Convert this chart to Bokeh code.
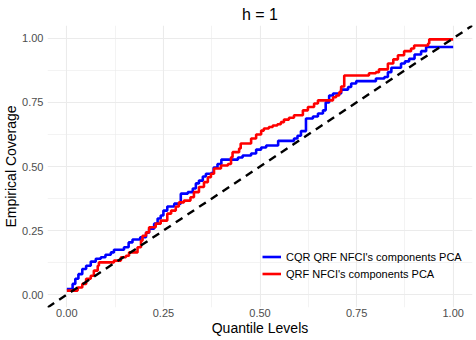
from bokeh.plotting import figure
from bokeh.models import Range1d, FixedTicker, Legend, LegendItem, Slope
from bokeh.embed import file_html
from bokeh.resources import INLINE

# ---- data ----
title_text = "h = 1"
x_label = "Quantile Levels"
y_label = "Empirical Coverage"
tick_values = [0.0, 0.25, 0.5, 0.75, 1.0]
tick_labels = ["0.00", "0.25", "0.50", "0.75", "1.00"]
minor_values = [0.125, 0.375, 0.625, 0.875]

series_cqr = "CQR QRF NFCI's components PCA"
cqr_x = [0.0, 0.015, 0.022, 0.03, 0.04, 0.05, 0.062, 0.075, 0.088, 0.10, 0.114, 0.122,
         0.148, 0.16, 0.17, 0.19, 0.205, 0.213, 0.226, 0.235, 0.243, 0.25, 0.26, 0.278,
         0.295, 0.313, 0.326, 0.334, 0.342, 0.352, 0.36, 0.373, 0.38, 0.39, 0.40, 0.443,
         0.455, 0.477, 0.49, 0.503, 0.516, 0.547, 0.588, 0.597, 0.606, 0.619, 0.637, 0.65,
         0.663, 0.67, 0.679, 0.689, 0.71, 0.728, 0.736, 0.749, 0.80, 0.822, 0.831, 0.84,
         0.865, 0.875, 0.886, 0.90, 0.917, 0.93, 1.0]
cqr_y = [0.022, 0.042, 0.062, 0.08, 0.10, 0.113, 0.129, 0.14, 0.146, 0.156, 0.165, 0.175,
         0.185, 0.204, 0.215, 0.224, 0.242, 0.257, 0.277, 0.297, 0.309, 0.328, 0.344, 0.355,
         0.394, 0.40, 0.414, 0.434, 0.445, 0.461, 0.472, 0.474, 0.496, 0.51, 0.527, 0.535,
         0.543, 0.551, 0.566, 0.574, 0.582, 0.60, 0.609, 0.62, 0.638, 0.687, 0.695, 0.707,
         0.719, 0.75, 0.777, 0.785, 0.80, 0.81, 0.824, 0.833, 0.843, 0.849, 0.868, 0.885,
         0.902, 0.91, 0.92, 0.937, 0.95, 0.966, 0.966]

series_qrf = "QRF NFCI's components PCA"
qrf_x = [0.0, 0.028, 0.04, 0.05, 0.062, 0.07, 0.08, 0.083, 0.122, 0.14, 0.153, 0.161,
         0.183, 0.192, 0.196, 0.205, 0.213, 0.23, 0.243, 0.26, 0.27, 0.282, 0.29, 0.303,
         0.32, 0.329, 0.342, 0.355, 0.365, 0.373, 0.381, 0.399, 0.417, 0.425, 0.429, 0.446,
         0.45, 0.477, 0.49, 0.503, 0.51, 0.523, 0.533, 0.545, 0.554, 0.562, 0.575, 0.588,
         0.611, 0.624, 0.64, 0.65, 0.689, 0.697, 0.705, 0.71, 0.718, 0.782, 0.80, 0.808,
         0.831, 0.845, 0.857, 0.873, 0.891, 0.899, 0.935, 0.938, 1.0]
qrf_y = [0.016, 0.028, 0.042, 0.062, 0.074, 0.094, 0.113, 0.126, 0.133, 0.146, 0.152, 0.165,
         0.185, 0.211, 0.23, 0.243, 0.263, 0.277, 0.289, 0.316, 0.328, 0.344, 0.36, 0.367,
         0.38, 0.40, 0.42, 0.439, 0.458, 0.472, 0.492, 0.504, 0.51, 0.536, 0.556, 0.57,
         0.59, 0.609, 0.625, 0.64, 0.648, 0.654, 0.66, 0.665, 0.673, 0.683, 0.69, 0.70,
         0.719, 0.732, 0.746, 0.758, 0.77, 0.777, 0.79, 0.812, 0.855, 0.864, 0.868, 0.879,
         0.902, 0.918, 0.934, 0.95, 0.96, 0.972, 0.98, 0.996, 0.996]

FONT = "Liberation Sans"

p = figure(width=476, height=340, output_backend="svg", toolbar_location=None,
           x_range=Range1d(-0.05, 1.05), y_range=Range1d(-0.05, 1.05),
           min_border_left=47, min_border_right=4, min_border_top=25, min_border_bottom=33)

p.title.text = title_text
p.title.align = "center"
p.title.text_font = FONT
p.title.text_font_size = "16px"
p.title.text_font_style = "normal"
p.title.text_color = "black"
p.title.standoff = 6

p.outline_line_color = None
p.background_fill_color = "white"
p.border_fill_color = "white"

for ax in (p.xaxis[0], p.yaxis[0]):
    ax.ticker = FixedTicker(ticks=tick_values, minor_ticks=minor_values)
    ax.major_label_overrides = dict(zip(tick_values, tick_labels))
    ax.axis_line_color = None
    ax.major_tick_line_color = None
    ax.minor_tick_line_color = None
    ax.major_tick_out = 0
    ax.major_tick_in = 0
    ax.minor_tick_out = 0
    ax.minor_tick_in = 0
    ax.major_label_text_font = FONT
    ax.major_label_text_font_size = "11px"
    ax.major_label_text_color = "#4d4d4d"
    ax.axis_label_text_font = FONT
    ax.axis_label_text_font_size = "14px"
    ax.axis_label_text_font_style = "normal"
    ax.axis_label_text_color = "black"

p.xaxis.axis_label = x_label
p.yaxis.axis_label = y_label
p.xaxis.major_label_standoff = 1
p.xaxis.axis_label_standoff = 0
p.yaxis.major_label_standoff = 4
p.yaxis.axis_label_standoff = 0

for g in (p.xgrid[0], p.ygrid[0]):
    g.ticker = FixedTicker(ticks=tick_values, minor_ticks=minor_values)
    g.grid_line_color = "#ebebeb"
    g.grid_line_width = 1.1
    g.minor_grid_line_color = "#ebebeb"
    g.minor_grid_line_width = 0.6

r_cqr = p.step(cqr_x, cqr_y, mode="after", line_color="blue", line_width=2.6)
r_qrf = p.step(qrf_x, qrf_y, mode="after", line_color="red", line_width=2.6)

p.add_layout(Slope(gradient=1, y_intercept=0, line_color="black", line_width=2.4,
                   line_dash="8 6"))

legend = Legend(items=[LegendItem(label=series_cqr, renderers=[r_cqr]),
                       LegendItem(label=series_qrf, renderers=[r_qrf])],
                location=(215, 25), padding=0, margin=0, spacing=0,
                glyph_width=19, glyph_height=17, label_height=14, label_standoff=5,
                label_text_font=FONT, label_text_font_size="11px",
                label_text_color="black",
                border_line_color=None, background_fill_alpha=0)
p.add_layout(legend)

open("out.html", "w").write(file_html(p, INLINE))
